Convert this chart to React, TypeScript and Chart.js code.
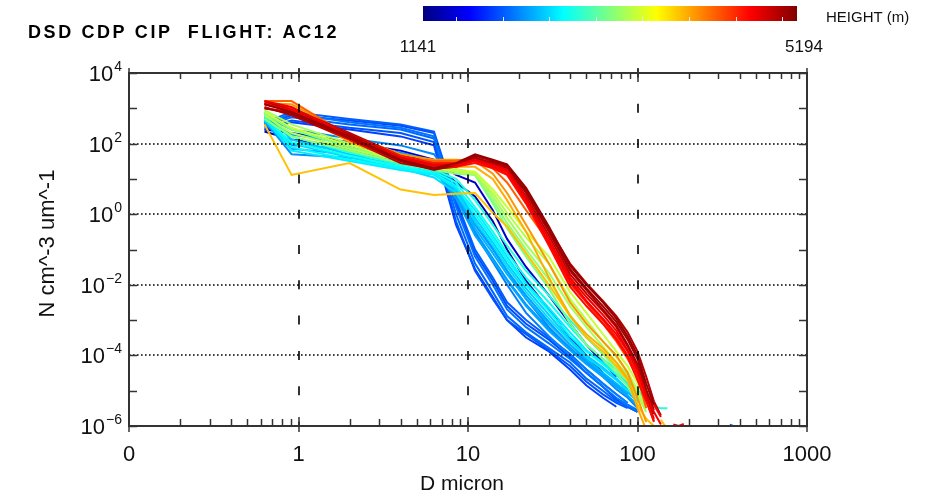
import React, { useEffect, useRef } from 'react';
import { Chart, registerables } from 'chart.js';

Chart.register(...registerables);

// ---------- text ----------
const TITLE = 'DSD CDP CIP  FLIGHT: AC12';
const X_TITLE = 'D micron';
const Y_TITLE = 'N cm^-3 um^-1';
const CBAR_TITLE = 'HEIGHT (m)';
const HEIGHT_MIN = 1141;
const HEIGHT_MAX = 5194;

// ---------- axes ----------
const xTickValues = [0.1, 1, 10, 100, 1000];
const xTickLabels = ['0', '1', '10', '100', '1000'];
const yTickValues = [1e4, 1e2, 1e0, 1e-2, 1e-4, 1e-6];
const yTickExponents = ['4', '2', '0', '\u22122', '\u22124', '\u22126'];
const xGridValues = [1, 10, 100];
const yGridValues = [1e2, 1e0, 1e-2, 1e-4];

// ---------- bin diameters (micron) ----------
const diameters = [0.63, 0.91, 2.0, 4.0, 6.3, 8.5, 11, 14, 17, 22, 30, 40, 50, 62.5, 75, 87.5, 100, 112.5, 125, 137.5, 150];

// ---------- spectra, N (cm^-3 um^-1) at each diameter ----------
const darkRed1 = [1.3e3, 7.9e2, 1.6e2, 35, 20, 28, 50, 35, 26, 5.6, 4.5e-1, 3.5e-2, 1.0e-2, 3.2e-3, 1.1e-3, 3.5e-4, 1.0e-4, 1.6e-5, 4.0e-6];
const darkRed2 = [1.0e3, 7.1e2, 1.4e2, 32, 18, 25, 45, 32, 24, 4.5, 3.5e-1, 2.8e-2, 7.9e-3, 2.5e-3, 8.9e-4, 2.8e-4, 7.9e-5, 1.1e-5, 2.8e-6];
const darkRed3 = [1.6e3, 8.9e2, 1.8e2, 40, 22, 25, 40, 28, 20, 4.0, 3.2e-1, 2.5e-2, 7.1e-3, 2.0e-3, 7.1e-4, 2.0e-4, 5.6e-5, 7.9e-6, 2.2e-6];
const darkRed4 = [1.1e3, 6.3e2, 1.3e2, 28, 19, 22, 35, 30, 22, 5.0, 4.0e-1, 4.0e-2, 1.1e-2, 3.5e-3, 1.3e-3, 4.5e-4, 1.3e-4, 2.5e-5, 5.0e-6, 2.0e-6];
const darkRed5 = [1.4e3, 1.0e3, 2.0e2, 45, 25, 28, 40, 25, 18, 3.2, 2.5e-1, 2.0e-2, 5.6e-3, 1.8e-3, 6.3e-4, 1.8e-4, 4.5e-5, 6.3e-6, 1.6e-6];
const red1 = [1.6e3, 1.1e3, 1.6e2, 40, 25, 25, 35, 25, 18, 2.8, 2.0e-1, 1.6e-2, 4.5e-3, 1.4e-3, 5.0e-4, 1.4e-4, 4.0e-5, 7.1e-6, 2.5e-6, 1.1e-6];
const red2 = [1.3e3, 8.9e2, 1.4e2, 35, 22, 24, 32, 22, 16, 2.5, 1.6e-1, 1.3e-2, 3.5e-3, 1.1e-3, 4.0e-4, 1.3e-4, 3.5e-5, 8.9e-6, 4.0e-6, 1.8e-6];
const red3 = [1.0e3, 7.9e2, 1.3e2, 32, 20, 22, 28, 20, 13, 2.0, 1.3e-1, 8.9e-3, 2.5e-3, 7.9e-4, 2.8e-4, 8.9e-5, 2.0e-5, 5.0e-6, 1.4e-6];
const red4 = [1.4e3, 1.0e3, 1.8e2, 45, 28, 28, 35, 22, 14, 2.2, 1.4e-1, 1.1e-2, 3.2e-3, 1.0e-3, 3.2e-4, 1.0e-4, 2.8e-5, 5.6e-6, 1.3e-6];
const orange1 = [1.6e3, 1.6e3, 1.6e2, 40, 32, 32, 40, 20, 7.9, 1.3, 1.6e-1, 1.6e-2, 3.2e-3, 7.9e-4, 2.5e-4, 7.9e-5, 2.5e-5, 3.2e-6];
const orange2 = [1.4e3, 1.3e3, 1.8e2, 50, 35, 35, 32, 14, 4.0, 5.0e-1, 4.0e-2, 3.2e-3, 7.9e-4, 2.5e-4, 1.0e-4, 3.2e-5, 6.3e-6, 1.3e-6];
const orange3 = [1.3e3, 8.9e2, 1.1e2, 35, 25, 22, 22, 10, 2.5, 3.2e-1, 1.6e-2, 1.3e-3, 4.0e-4, 1.6e-4, 6.3e-5, 2.2e-5, 3.2e-6, 7.9e-7];
const yellow1 = [3.5e2, 13, 28, 5.0, 3.5, 3.8, 4.0, 1.1, 4.5e-1, 7.9e-2, 1.0e-2, 1.3e-3, 3.2e-4, 1.3e-4, 5.0e-5, 2.0e-5, 4.0e-6, 1.6e-6, 1.0e-6];
const green1 = [7.9e2, 2.8e2, 89, 35, 22, 18, 16, 5.0, 1.6, 3.2e-1, 6.3e-2, 6.3e-3, 1.6e-3, 4.0e-4, 1.3e-4, 5.0e-5, 1.6e-5, 5.0e-6];
const green2 = [6.3e2, 2.0e2, 71, 32, 20, 16, 14, 4.0, 1.1, 2.2e-1, 4.0e-2, 4.0e-3, 1.0e-3, 2.5e-4, 8.9e-5, 3.5e-5, 1.0e-5, 3.2e-6];
const green3 = [8.9e2, 3.5e2, 1.0e2, 40, 25, 19, 15, 3.2, 7.9e-1, 1.4e-1, 2.2e-2, 2.5e-3, 6.3e-4, 1.8e-4, 6.3e-5, 2.8e-5, 7.9e-6, 2.5e-6];
const green4 = [5.0e2, 1.6e2, 63, 28, 18, 14, 13, 2.5, 5.6e-1, 1.0e-1, 1.4e-2, 1.4e-3, 3.5e-4, 1.1e-4, 4.0e-5, 1.8e-5, 6.3e-6];
const green5 = [7.1e2, 2.5e2, 79, 32, 21, 17, 13, 2.0, 4.0e-1, 6.3e-2, 7.9e-3, 7.9e-4, 2.0e-4, 7.9e-5, 3.2e-5, 1.3e-5, 4.5e-6];
const cyan1 = [7.1e2, 1.6e2, 56, 25, 18, 10, 2.5, 5.0e-1, 1.3e-1, 2.5e-2, 5.0e-3, 1.0e-3, 3.2e-4, 1.1e-4, 5.0e-5, 2.5e-5, 1.1e-5, 5.0e-6, 3.5e-6, 3.2e-6, 3.2e-6];
const cyan2 = [5.6e2, 1.1e2, 45, 22, 16, 7.9, 1.6, 3.2e-1, 7.9e-2, 1.6e-2, 3.2e-3, 6.3e-4, 2.0e-4, 7.9e-5, 4.0e-5, 2.0e-5, 7.9e-6, 3.5e-6];
const cyan3 = [6.3e2, 79, 35, 20, 14, 6.3, 1.0, 2.0e-1, 5.0e-2, 1.0e-2, 1.8e-3, 3.5e-4, 1.3e-4, 5.6e-5, 2.8e-5, 1.4e-5, 5.6e-6];
const cyan4 = [5.0e2, 63, 32, 18, 13, 5.6, 1.3, 2.5e-1, 6.3e-2, 1.1e-2, 2.2e-3, 4.5e-4, 1.4e-4, 6.3e-5, 3.2e-5, 1.6e-5, 6.3e-6];
const cyan5 = [4.5e2, 1.0e2, 40, 20, 11, 4.0, 6.3e-1, 1.3e-1, 3.2e-2, 6.3e-3, 1.1e-3, 2.5e-4, 8.9e-5, 4.0e-5, 2.0e-5, 1.0e-5];
const cyan6 = [7.9e2, 1.3e2, 50, 22, 14, 5.0, 7.9e-1, 1.6e-1, 4.0e-2, 7.9e-3, 1.4e-3, 2.8e-4, 1.0e-4, 4.5e-5, 2.2e-5, 1.1e-5, 4.5e-6];
const lightBlue1 = [5.0e2, 1.0e2, 63, 35, 20, 4.0, 4.0e-1, 7.9e-2, 2.0e-2, 4.0e-3, 7.9e-4, 2.0e-4, 7.9e-5, 3.2e-5, 1.6e-5, 8.9e-6, 5.0e-6];
const lightBlue2 = [4.0e2, 71, 50, 32, 18, 2.8, 2.5e-1, 5.0e-2, 1.3e-2, 2.5e-3, 5.0e-4, 1.4e-4, 5.6e-5, 2.5e-5, 1.3e-5, 7.1e-6, 4.0e-6];
const lightBlue3 = [5.6e2, 1.8e2, 1.0e2, 56, 32, 5.0, 5.0e-1, 1.0e-1, 2.5e-2, 5.0e-3, 8.9e-4, 2.0e-4, 7.1e-5, 2.8e-5, 1.4e-5, 7.9e-6];
const lightBlue4 = [4.5e2, 50, 40, 28, 16, 3.2, 3.2e-1, 5.6e-2, 1.4e-2, 2.8e-3, 5.6e-4, 1.6e-4, 6.3e-5, 2.8e-5, 1.4e-5, 7.1e-6, 3.5e-6];
const lightBlue5 = [6.3e2, 2.5e2, 1.4e2, 89, 50, 6.3, 6.3e-1, 1.1e-1, 2.5e-2, 4.0e-3, 6.3e-4, 1.6e-4, 6.3e-5, 2.5e-5, 1.1e-5, 6.3e-6, 3.2e-6];
const lightBlue6 = [4.0e2, 89, 71, 45, 25, 3.5, 2.8e-1, 4.5e-2, 1.0e-2, 1.6e-3, 3.5e-4, 1.0e-4, 4.0e-5, 1.6e-5, 7.9e-6, 4.5e-6];
const blue1 = [3.5e2, 7.1e2, 4.0e2, 2.8e2, 1.6e2, 1.6, 6.3e-2, 1.0e-2, 2.0e-3, 6.3e-4, 2.2e-4, 7.9e-5, 3.2e-5, 1.3e-5, 6.3e-6, 4.0e-6, 2.8e-6];
const blue2 = [3.2e2, 5.6e2, 3.5e2, 2.5e2, 1.4e2, 1.0, 4.0e-2, 6.3e-3, 1.3e-3, 4.5e-4, 1.6e-4, 6.3e-5, 2.2e-5, 1.0e-5, 5.0e-6, 3.5e-6, 2.5e-6];
const blue3 = [4.0e2, 7.9e2, 5.0e2, 3.5e2, 2.2e2, 2.5, 1.0e-1, 1.6e-2, 3.2e-3, 1.0e-3, 3.2e-4, 1.1e-4, 4.0e-5, 1.6e-5, 7.9e-6, 4.5e-6];
const blue4 = [2.8e2, 4.5e2, 2.8e2, 2.0e2, 1.1e2, 6.3e-1, 2.5e-2, 4.0e-3, 1.0e-3, 4.0e-4, 1.4e-4, 5.0e-5, 1.8e-5, 7.9e-6, 4.5e-6, 3.2e-6];
const blue5 = [3.5e2, 6.3e2, 4.5e2, 3.2e2, 2.0e2, 2.0, 7.9e-2, 1.3e-2, 2.5e-3, 7.9e-4, 2.8e-4, 8.9e-5, 3.2e-5, 1.3e-5, 5.6e-6, 3.5e-6, 2.5e-6];
const blue6 = [2.5e2, 4.0e2, 2.5e2, 1.6e2, 89, 5.0e-1, 2.8e-2, 4.5e-3, 1.0e-3, 3.2e-4, 1.3e-4, 4.0e-5, 1.4e-5, 6.3e-6, 3.5e-6];
const darkBlue1 = [2.5e2, 2.0e2, 1.1e2, 63, 35, 13, 7.9, 1.3, 2.0e-1, 3.2e-2, 5.0e-3, 7.9e-4, 2.0e-4, 6.3e-5, 2.5e-5];
const darkBlue2 = [2.2e2, 1.3e2, 79, 50, 28, 7.9, 3.2, 6.3e-1, 1.0e-1, 1.3e-2, 2.0e-3, 3.2e-4, 1.0e-4, 3.2e-5];

// short stray segments near the detection limit
const redTailD = [162.5, 175, 187.5];
const redTail = [1.1e-6, 1.0e-6, 1.15e-6];
const yellowTailD = [137.5, 150];
const yellowTail = [1.5e-6, 8e-7];
const blueTailD = [350, 368];
const blueTail = [1.08e-6, 1.0e-6];

// flight level (m) of each spectrum, drawn top-most first
const spectra: [number, number[]][] = [
  [5100, darkRed1], [4750, red1], [5060, darkRed2], [4700, red2], [5020, darkRed3],
  [4650, red3], [4980, darkRed4], [4600, red4], [4940, darkRed5],
  [4300, orange1], [4100, orange2], [4000, orange3], [3920, yellow1],
  [3450, green1], [3380, green2], [3300, green3], [3230, green4], [3150, green5],
  [2800, cyan1], [2720, cyan2], [2640, cyan3], [2580, cyan4], [2520, cyan5], [2460, cyan6],
  [2350, lightBlue1], [2310, lightBlue2], [2270, lightBlue3], [2230, lightBlue4], [2190, lightBlue5], [2150, lightBlue6],
  [2100, blue1], [2060, blue2], [2020, blue3], [1980, blue4], [1940, blue5], [1900, blue6],
  [1450, darkBlue1], [1300, darkBlue2],
];
const tails: [number, number[], number[]][] = [
  [4700, redTailD, redTail],
  [3920, yellowTailD, yellowTail],
  [1950, blueTailD, blueTail],
];

function clamp01(v: number) { return Math.max(0, Math.min(1, v)); }
function jet(t: number) {
  const r = clamp01(1.5 - Math.abs(4 * t - 3));
  const g = clamp01(1.5 - Math.abs(4 * t - 2));
  const b = clamp01(1.5 - Math.abs(4 * t - 1));
  return `rgb(${Math.round(r * 255)},${Math.round(g * 255)},${Math.round(b * 255)})`;
}
function heightColor(h: number) { return jet((h - HEIGHT_MIN) / (HEIGHT_MAX - HEIGHT_MIN)); }

const FONT = '"Liberation Sans", Arial, sans-serif';

const decor = {
  id: 'decor',
  afterDatasetsDraw(chart: any) {
    const { ctx, chartArea: a } = chart;
    const xs = chart.scales.x;
    const ys = chart.scales.y;
    ctx.save();

    // horizontal dotted grid
    ctx.strokeStyle = '#000';
    ctx.lineWidth = 1.6;
    ctx.setLineDash([1.6, 2.4]);
    for (const v of yGridValues) {
      const py = Math.round(ys.getPixelForValue(v));
      ctx.beginPath(); ctx.moveTo(a.left, py); ctx.lineTo(a.right, py); ctx.stroke();
    }
    // vertical dashed grid (one dash per decade of y)
    const period = ys.getPixelForValue(1e3) - ys.getPixelForValue(1e4);
    ctx.lineWidth = 1.6;
    ctx.setLineDash([9, period - 9]);
    for (const v of xGridValues) {
      const px = Math.round(xs.getPixelForValue(v));
      ctx.beginPath(); ctx.moveTo(px, a.top - 4.5); ctx.lineTo(px, a.bottom); ctx.stroke();
    }
    ctx.setLineDash([]);

    // frame
    ctx.strokeStyle = '#333';
    ctx.lineWidth = 2;
    ctx.strokeRect(a.left, a.top, a.right - a.left, a.bottom - a.top);

    // x ticks (top and bottom)
    ctx.lineWidth = 1.5;
    for (let d = 0.1; d < 1000; d *= 10) {
      for (let m = 2; m <= 9; m++) {
        const px = Math.round(xs.getPixelForValue(d * m)) + 0.5;
        ctx.beginPath(); ctx.moveTo(px, a.bottom); ctx.lineTo(px, a.bottom - 7); ctx.stroke();
        ctx.beginPath(); ctx.moveTo(px, a.top); ctx.lineTo(px, a.top + 6); ctx.stroke();
      }
    }
    for (const v of xTickValues) {
      const px = Math.round(xs.getPixelForValue(v));
      ctx.beginPath(); ctx.moveTo(px, a.bottom - 9); ctx.lineTo(px, a.bottom + 6); ctx.stroke();
      ctx.beginPath(); ctx.moveTo(px, a.top - 5); ctx.lineTo(px, a.top + 9); ctx.stroke();
    }
    // y ticks (left and right), one per decade
    for (let e = -6; e <= 4; e++) {
      const py = Math.round(ys.getPixelForValue(Math.pow(10, e))) + 0.5;
      ctx.beginPath(); ctx.moveTo(a.left, py); ctx.lineTo(a.left + 8, py); ctx.stroke();
      ctx.beginPath(); ctx.moveTo(a.right, py); ctx.lineTo(a.right - 8, py); ctx.stroke();
    }

    // tick labels
    ctx.fillStyle = '#111';
    ctx.font = `22px ${FONT}`;
    ctx.textAlign = 'center';
    ctx.textBaseline = 'alphabetic';
    xTickValues.forEach((v, i) => {
      ctx.fillText(xTickLabels[i], xs.getPixelForValue(v), a.bottom + 35);
    });
    yTickValues.forEach((v, i) => {
      const py = ys.getPixelForValue(v);
      ctx.font = `14px ${FONT}`;
      ctx.textAlign = 'right';
      const ew = ctx.measureText(yTickExponents[i]).width;
      const right = a.left - 7;
      ctx.fillText(yTickExponents[i], right, py - 2);
      ctx.font = `22px ${FONT}`;
      ctx.fillText('10', right - ew - 1, py + 8);
    });

    // axis titles
    ctx.textAlign = 'center';
    ctx.font = `21px ${FONT}`;
    ctx.fillText(X_TITLE, 462, a.bottom + 64);
    ctx.save();
    ctx.font = `22px ${FONT}`;
    ctx.translate(a.left - 75, (a.top + a.bottom) / 2 - 6);
    ctx.rotate(-Math.PI / 2);
    ctx.fillText(Y_TITLE, 0, 0);
    ctx.restore();

    // title
    ctx.textAlign = 'left';
    ctx.font = `bold 18px ${FONT}`;
    (ctx as any).letterSpacing = '2.6px';
    ctx.fillStyle = '#000';
    ctx.fillText(TITLE, 28, 38);
    (ctx as any).letterSpacing = '0px';

    // colour bar
    const cbL = 423, cbR = 797, cbT = 6, cbB = 21;
    const grad = ctx.createLinearGradient(cbL, 0, cbR, 0);
    [0, 0.125, 0.375, 0.625, 0.875, 1].forEach((t) => grad.addColorStop(t, jet(t)));
    ctx.fillStyle = grad;
    ctx.fillRect(cbL, cbT, cbR - cbL, cbB - cbT);
    ctx.strokeStyle = '#e8e8e8';
    ctx.lineWidth = 1;
    for (let k = 0; k < 8; k++) {
      const px = Math.round(456 + k * 46.6) + 0.5;
      ctx.beginPath(); ctx.moveTo(px, cbB - 4); ctx.lineTo(px, cbB); ctx.stroke();
    }
    ctx.fillStyle = '#111';
    ctx.font = `17px ${FONT}`;
    ctx.textAlign = 'center';
    ctx.fillText(String(HEIGHT_MIN), 418, 52);
    ctx.fillText(String(HEIGHT_MAX), 804, 52);
    ctx.textAlign = 'left';
    ctx.font = `15px ${FONT}`;
    ctx.fillText(CBAR_TITLE, 826, 22);

    ctx.restore();
  },
};

export default function App() {
  const ref = useRef<HTMLCanvasElement>(null);
  useEffect(() => {
    if (!ref.current) return;
    const datasets: any[] = spectra.map(([h, vals]) => ({
      data: vals.map((v, i) => ({ x: diameters[i], y: v })),
      borderColor: heightColor(h),
      borderWidth: 2,
      pointRadius: 0,
      fill: false,
      tension: 0,
    }));
    tails.forEach(([h, ds, vals]) => datasets.push({
      data: vals.map((v, i) => ({ x: ds[i], y: v })),
      borderColor: heightColor(h),
      borderWidth: 2,
      pointRadius: 0,
      fill: false,
      tension: 0,
    }));
    const chart = new Chart(ref.current, {
      type: 'line',
      data: { datasets },
      options: {
        animation: false,
        responsive: false,
        devicePixelRatio: 1,
        layout: { padding: { left: 129, top: 73, right: 123, bottom: 69 } },
        scales: {
          x: { type: 'logarithmic', min: 0.1, max: 1000, display: false },
          y: { type: 'logarithmic', min: 1e-6, max: 1e4, display: false },
        },
        plugins: { legend: { display: false }, tooltip: { enabled: false } },
      },
      plugins: [decor],
    } as any);
    return () => chart.destroy();
  }, []);
  return (
    <div style={{ position: 'absolute', left: 0, top: 0, width: 930, height: 495, background: '#fff' }}>
      <canvas ref={ref} width={930} height={495} style={{ display: 'block' }} />
    </div>
  );
}
